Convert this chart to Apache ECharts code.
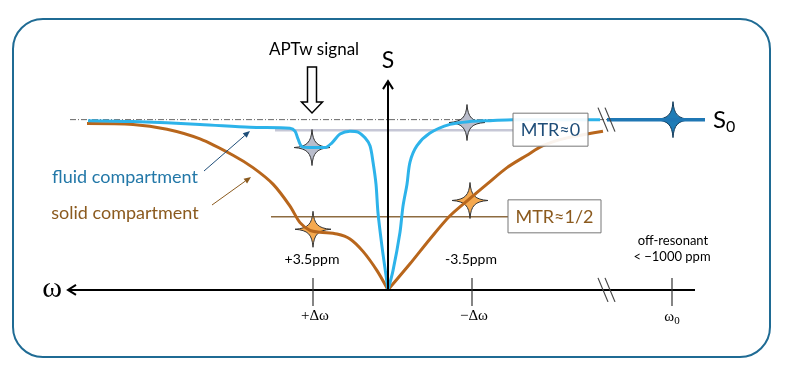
<!DOCTYPE html>
<html>
<head>
<meta charset="utf-8">
<script src="https://cdn.jsdelivr.net/npm/echarts@6/dist/echarts.min.js"></script>
<style>
  html, body { margin: 0; background: #fff; }
  #main { width: 791px; height: 375px; }
</style>
</head>
<body>
<div id="main"></div>
<script>
// x = schematic frequency offset (positive to the left), y = signal S / S0
const fluidLeft = [[30.0,0.994],[25.5,0.989],[18.8,0.972],[13.8,0.955],[9.8,0.949],[9.3,0.932],[9.0,0.887],[8.6,0.842],[7.6,0.836],[6.3,0.836],[5.6,0.864],[4.8,0.915],[3.8,0.932],[3.0,0.927],[2.3,0.893],[1.8,0.847],[1.5,0.751],[1.2,0.621],[1.0,0.452],[0.6,0.254],[0.2,0.085],[0,0]];
const fluidRight = [[0,0],[-0.5,0.113],[-1.2,0.339],[-1.5,0.492],[-1.9,0.621],[-2.2,0.751],[-2.9,0.847],[-4.2,0.921],[-6.2,0.972],[-8.2,0.989],[-10.2,0.994],[-12.5,1.0],[-21.2,1.0]];
const solidLeft = [[30.1,0.977],[25.5,0.972],[22.1,0.944],[18.8,0.887],[15.5,0.791],[13.5,0.718],[11.5,0.621],[9.8,0.492],[8.8,0.395],[7.8,0.350],[6.8,0.339],[5.1,0.328],[3.8,0.299],[2.5,0.226],[1.1,0.113],[0,0]];
const solidRight = [[0,0],[-2.2,0.153],[-4.2,0.299],[-6.2,0.435],[-8.2,0.537],[-9.9,0.621],[-11.9,0.718],[-13.9,0.791],[-15.5,0.847],[-17.5,0.887],[-19.9,0.915],[-21.5,0.932]];
const offResLine = [[-21.9,1],[-31.7,1]];
const s0Guide = [[31.8,1],[-31.2,1]];

const grayStars = [[7.6,0.836],[-7.9,0.983]];
const orangeStars = [[7.5,0.356],[-8.2,0.525]];
const blueStars = [[-28.5,1.0]];

const refLevels = [0.938, 0.429];
const refStart = [11.3, 11.7];
const refEnd = [-12.5, -12.0];
const refLabels = ['MTR≈0', 'MTR≈1/2'];

const tickX = [7.5, -8.4, -28.4];
const tickLabels = ['+Δω', '−Δω', 'ω'];
const ppmLabels = ['+3.5ppm', '-3.5ppm'];
const offResLabels = ['off-resonant', '< −1000 ppm'];
const axisX = [32.0, -30.7];
const axisTopS = 1.226;
const breakX = -21.9;

const SANS = 'Lato, "Open Sans", sans-serif';
const SERIF = '"Liberation Serif", "DejaVu Serif", serif';
const STAR = 'path://M0,-18 C1,-5 5,-1 18,0 C5,1 1,5 0,18 C-1,5 -5,1 -18,0 C-5,-1 -1,-5 0,-18 Z';

const chart = echarts.init(document.getElementById('main'));

function curve(data, color, width) {
  return {
    type: 'line', data: data, smooth: 0.3, symbol: 'none', z: 5,
    lineStyle: { color: color, width: width }
  };
}
function stars(data, fill, border) {
  return {
    type: 'scatter', data: data, symbol: STAR, symbolSize: 36, z: 3,
    itemStyle: { color: fill, borderColor: border, borderWidth: 1, opacity: 1 }
  };
}

chart.setOption({
  animation: false,
  grid: { left: 0, width: 791, top: 34.5, height: 354 },
  xAxis: { type: 'value', min: -40.3, max: 38.8, inverse: true, show: false },
  yAxis: { type: 'value', min: -0.5, max: 1.5, show: false },
  series: [
    { type: 'line', data: s0Guide, symbol: 'none', z: 1,
      lineStyle: { color: '#666', width: 1, type: [6, 2, 1, 2] } },
    { type: 'line', data: [[refStart[0], refLevels[0]], [refEnd[0], refLevels[0]]], symbol: 'none', z: 2,
      lineStyle: { color: '#c6c7d6', width: 2.5 } },
    { type: 'line', data: [[refStart[1], refLevels[1]], [refEnd[1], refLevels[1]]], symbol: 'none', z: 2,
      lineStyle: { color: '#8d6b40', width: 1.5 } },
    stars(grayStars, '#b9bdcc', '#333'),
    stars(orangeStars, '#f5a94f', '#333'),
    stars(blueStars, '#1f7cb6', '#0d3656'),
    curve(solidLeft, '#b8661c', 3),
    curve(solidRight, '#b8661c', 3),
    curve(fluidLeft, '#2db3ea', 3),
    curve(fluidRight, '#2db3ea', 3),
    curve(offResLine, '#1f77b4', 3.5)
  ]
});

function P(x, y) { return chart.convertToPixel({ gridIndex: 0 }, [x, y]); }
function line(x1, y1, x2, y2, color, w, z) {
  return { type: 'line', z: z || 20, shape: { x1: x1, y1: y1, x2: x2, y2: y2 },
    style: { stroke: color, lineWidth: w } };
}
function text(str, x, y, font, fill, z) {
  return { type: 'text', z: z || 30, x: x, y: y,
    style: { text: str, font: font, fill: fill, align: 'center', verticalAlign: 'middle' } };
}
function pointer(x1, y1, x2, y2, color) {
  const a = Math.atan2(y2 - y1, x2 - x1), L = 7, W = 3;
  const bx = x2 - L * Math.cos(a), by = y2 - L * Math.sin(a);
  return [
    line(x1, y1, bx, by, color, 1),
    { type: 'polygon', z: 20, shape: { points: [[x2, y2],
      [bx + W * Math.sin(a), by - W * Math.cos(a)], [bx - W * Math.sin(a), by + W * Math.cos(a)]] },
      style: { fill: color } }
  ];
}

const g = [];
// frame
g.push({ type: 'rect', z: 0, shape: { x: 13, y: 19, width: 757, height: 338, r: 30 },
  style: { fill: 'none', stroke: '#1f6b94', lineWidth: 2 } });

// frequency axis with open arrow head to the left
const o = P(0, 0), xl = P(axisX[0], 0), xr = P(axisX[1], 0), yt = P(0, axisTopS);
g.push(line(xl[0], o[1], xr[0], o[1], '#000', 2));
g.push({ type: 'polyline', z: 20, shape: { points: [[xl[0] + 8, o[1] - 5], [xl[0], o[1]], [xl[0] + 8, o[1] + 5]] },
  style: { stroke: '#000', lineWidth: 2, fill: 'none' } });
g.push(text('ω', 52, o[1] - 1, '30px ' + SERIF, '#000'));
// signal axis
g.push(line(o[0], o[1], o[0], yt[1], '#000', 2));
g.push({ type: 'polyline', z: 20, shape: { points: [[o[0] - 5, yt[1] + 8], [o[0], yt[1]], [o[0] + 5, yt[1] + 8]] },
  style: { stroke: '#000', lineWidth: 2, fill: 'none' } });
g.push(text('S', o[0], yt[1] - 21, '23px ' + SANS, '#000'));

// ticks and labels
tickX.forEach(function (tx, i) {
  const p = P(tx, 0);
  g.push(line(p[0], p[1] - 12, p[0], p[1] + 16, '#333', 1.2));
  if (i < 2) {
    g.push(text(tickLabels[i], p[0] + 2, p[1] + 26, '15px ' + SERIF, '#000'));
    g.push(text(ppmLabels[i], p[0] - 1, p[1] - 30, '14px ' + SANS, '#000'));
  } else {
    g.push({ type: 'text', z: 30, x: p[0], y: p[1] + 27,
      style: { text: '{a|ω}{b|0}', align: 'center', verticalAlign: 'middle',
        rich: { a: { font: '15px ' + SERIF, fill: '#000' },
                b: { font: '11px ' + SERIF, fill: '#000', padding: [8, 0, 0, 0] } } } });
    g.push(text(offResLabels[0], p[0] + 1, p[1] - 49, '13px ' + SANS, '#000'));
    g.push(text(offResLabels[1], p[0], p[1] - 33, '13px ' + SANS, '#000'));
  }
});

// axis breaks
[0, 1].forEach(function (lvl) {
  const b = P(breakX, lvl);
  [-4, 3].forEach(function (d) {
    g.push(line(b[0] + d - 5, b[1] - 12, b[0] + d + 5, b[1] + 12, '#444', 1.2, 25));
  });
});

// S0 label
const s0 = P(offResLine[1][0], 1);
g.push({ type: 'text', z: 30, x: s0[0] + 8, y: s0[1] + 1,
  style: { text: '{a|S}{b|0}', align: 'left', verticalAlign: 'middle',
    rich: { a: { font: '24px ' + SANS, fill: '#000' },
            b: { font: '16px ' + SANS, fill: '#000', padding: [12, 0, 0, 0] } } } });

// MTR boxes
refLabels.forEach(function (lab, i) {
  const p = P(refEnd[i], refLevels[i]);
  const w = i === 0 ? 75 : 93;
  const col = i === 0 ? '#1f4e79' : '#8b5a1e';
  g.push({ type: 'rect', z: 40, shape: { x: p[0], y: p[1] - 17, width: w, height: 33 },
    style: { fill: 'rgba(255,255,255,0.92)', stroke: '#777', lineWidth: 1 } });
  g.push(text(lab, p[0] + w / 2, p[1], '18px ' + SANS, col, 41));
});

// APTw signal annotation with hollow arrow
const ax = P(grayStars[0][0], 1)[0];
g.push(text('APTw signal', ax + 2, 50, '17px ' + SANS, '#000'));
g.push({ type: 'polygon', z: 30, shape: { points: [[ax - 4.5, 67], [ax + 4.5, 67], [ax + 4.5, 102], [ax + 10.5, 102],
  [ax, 113], [ax - 10.5, 102], [ax - 4.5, 102]] }, style: { fill: '#fff', stroke: '#000', lineWidth: 1.5 } });

// compartment labels
g.push(text('fluid compartment', 125, 177, '18px ' + SANS, '#2378a8'));
g.push(text('solid compartment', 125, 213, '18px ' + SANS, '#8b5a1e'));
pointer(204, 171, 250, 131, '#1f4e79').forEach(function (e) { g.push(e); });
pointer(212, 205, 251, 177, '#8b5a1e').forEach(function (e) { g.push(e); });

chart.setOption({ graphic: g });
</script>
</body>
</html>
